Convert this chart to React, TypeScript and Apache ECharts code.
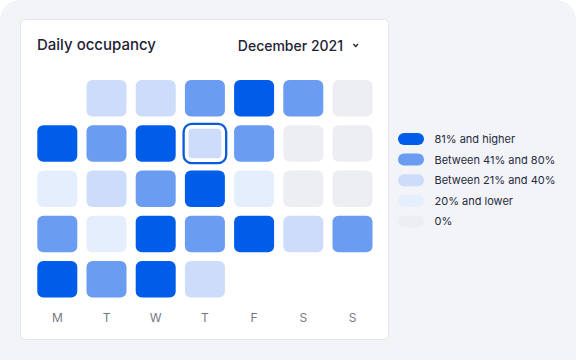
import React, { useEffect, useRef } from "react";
import * as echarts from "echarts";

// Weekday columns (Monday first) and week rows of the month view
const weekdays = ["Mon", "Tue", "Wed", "Thu", "Fri", "Sat", "Sun"];
const weeks = ["Week 1", "Week 2", "Week 3", "Week 4", "Week 5"];

// Occupancy level of each day: 4 = 81%+, 3 = 41–80%, 2 = 21–40%, 1 = ≤20%, 0 = 0%, null = no day
const week1 = [null, 2, 2, 3, 4, 3, 0];
const week2 = [4, 3, 4, 2, 3, 0, 0];
const week3 = [1, 2, 3, 4, 1, 0, 0];
const week4 = [3, 1, 4, 3, 4, 2, 3];
const week5 = [4, 3, 4, 2, null, null, null];
const weekRows = [week1, week2, week3, week4, week5];

// Highlighted (selected) day: [weekday index, week index]
const selectedDay = [3, 1];

// Legend levels, top to bottom
const levelValues = [4, 3, 2, 1, 0];
const levelLabels = ["81% and higher", "Between 41% and 80%", "Between 21% and 40%", "20% and lower", "0%"];
const levelColors = ["#005dea", "#6a9cf2", "#cddcfa", "#e5eefd", "#edeef1"];

const title = "Daily occupancy";
const monthLabel = "December 2021";

export default function App() {
  const ref = useRef<HTMLDivElement>(null);

  useEffect(() => {
    if (!ref.current) return;
    const chart = echarts.init(ref.current, null, { renderer: "svg" });

    const data: any[] = [];
    weekRows.forEach((row, r) => {
      row.forEach((lvl, c) => {
        if (lvl === null) return;
        const sel = c === selectedDay[0] && r === selectedDay[1] ? 1 : 0;
        data.push([c, r, lvl, sel]);
      });
    });

    const GAP_X = 9.2;
    const GAP_Y = 8.75;
    const font = "Inter, 'Noto Sans', sans-serif";

    chart.setOption({
      animation: false,
      backgroundColor: "#ffffff",
      title: [
        {
          text: title,
          left: 37,
          top: 37,
          padding: 0,
          textStyle: { fontSize: 15, fontWeight: 500, color: "#1e2235", fontFamily: font },
        },
        {
          text: monthLabel,
          right: 576 - 343,
          top: 38,
          padding: 0,
          textStyle: { fontSize: 14, fontWeight: 500, color: "#1e2235", fontFamily: font },
        },
      ],
      graphic: [
        {
          type: "rect",
          z: -10,
          shape: { x: 0, y: 0, width: 576, height: 360, r: [20, 20, 0, 0] },
          style: { fill: "#f3f4f8" },
          silent: true,
        },
        {
          type: "rect",
          z: -9,
          shape: { x: 20.5, y: 19.5, width: 368, height: 320, r: 4 },
          style: { fill: "#ffffff", stroke: "#e4e6ec", lineWidth: 1 },
          silent: true,
        },
        {
          type: "polyline",
          z: 5,
          shape: { points: [[353.4, 44], [355.7, 46.5], [358, 44]] },
          style: { stroke: "#1e2235", lineWidth: 1.3, fill: null },
          silent: true,
        },
      ],
      grid: { left: 32.7, right: 198.9, top: 75.6, bottom: 58.1 },
      xAxis: {
        type: "category",
        data: weekdays,
        position: "bottom",
        axisLine: { show: false },
        axisTick: { show: false },
        splitLine: { show: false },
        axisLabel: {
          margin: 10,
          color: "#757985",
          fontSize: 12,
          fontFamily: font,
          formatter: (v: string) => v.charAt(0),
        },
      },
      yAxis: {
        type: "category",
        data: weeks,
        inverse: true,
        show: false,
      },
      visualMap: {
        type: "piecewise",
        seriesIndex: 0,
        dimension: 2,
        orient: "vertical",
        align: "left",
        left: 398,
        top: 133,
        padding: 0,
        itemWidth: 26,
        itemHeight: 12,
        itemGap: 8.6,
        textGap: 10.5,
        selectedMode: false,
        hoverLink: false,
        itemSymbol: "path://M6 0H20A6 6 0 0 1 20 12H6A6 6 0 0 1 6 0Z",
        textStyle: { color: "#252a3e", fontSize: 11, fontFamily: font },
        pieces: levelValues.map((v, i) => ({ value: v, label: levelLabels[i], color: levelColors[i] })),
      },
      series: [
        {
          type: "custom",
          coordinateSystem: "cartesian2d",
          encode: { x: 0, y: 1 },
          data,
          renderItem: (params: any, api: any) => {
            const c = api.coord([api.value(0), api.value(1)]);
            const s = api.size([1, 1]);
            const w = s[0] - GAP_X;
            const h = s[1] - GAP_Y;
            const x = c[0] - w / 2;
            const y = c[1] - h / 2;
            const color = api.visual("color");
            if (api.value(3) !== 1) {
              return { type: "rect", shape: { x, y, width: w, height: h, r: 6 }, style: { fill: color } };
            }
            return {
              type: "group",
              children: [
                {
                  type: "rect",
                  shape: { x: x - 1.3, y: y - 1.3, width: w + 2.6, height: h + 2.6, r: 8 },
                  style: { fill: "#ffffff", stroke: "#0a5bd8", lineWidth: 2.3 },
                },
                {
                  type: "rect",
                  shape: { x: x + 3.6, y: y + 3.6, width: w - 7.2, height: h - 7.2, r: 4 },
                  style: { fill: color },
                },
              ],
            };
          },
        },
      ],
    });

    return () => chart.dispose();
  }, []);

  return (
    <div
      ref={ref}
      style={{ position: "fixed", left: 0, top: 0, width: 576, height: 360 }}
    />
  );
}
